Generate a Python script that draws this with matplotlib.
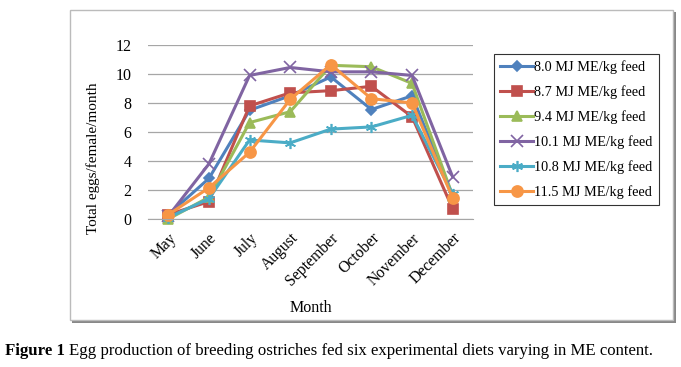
import matplotlib.pyplot as plt
from matplotlib.patches import Rectangle

plt.rcParams['font.family'] = ['Liberation Serif', 'DejaVu Serif']

months = ['May', 'June', 'July', 'August', 'September', 'October', 'November', 'December']
labels = ['8.0 MJ ME/kg feed', '8.7 MJ ME/kg feed', '9.4 MJ ME/kg feed',
          '10.1 MJ ME/kg feed', '10.8 MJ ME/kg feed', '11.5 MJ ME/kg feed']

me_80 = [0.3, 2.8, 7.5, 8.5, 9.8, 7.55, 8.5, 1.6]
me_87 = [0.3, 1.2, 7.8, 8.7, 8.85, 9.15, 7.05, 0.7]
me_94 = [0.0, 1.5, 6.65, 7.4, 10.6, 10.5, 9.35, 1.6]
me_101 = [0.2, 3.8, 9.9, 10.45, 10.15, 10.15, 9.9, 2.9]
me_108 = [0.1, 1.4, 5.45, 5.25, 6.2, 6.35, 7.15, 1.7]
me_115 = [0.3, 2.15, 4.6, 8.25, 10.65, 8.3, 8.0, 1.45]

series = [me_80, me_87, me_94, me_101, me_108, me_115]
colors = ['#4F81BD', '#C0504D', '#9BBB59', '#8064A2', '#4BACC6', '#F79646']
markers = ['D', 's', '^', 'x', (6, 2, 0), 'o']
msizes = [5, 7.5, 7.5, 8, 8, 8]

W, H = 681, 367
fig = plt.figure(figsize=(W / 100, H / 100), dpi=100)

# outer chart frame with shadow on right/bottom
fig.patches.append(Rectangle((72 / W, 1 - 323 / H), 604 / W, 311 / H,
                             transform=fig.transFigure, facecolor='#888888',
                             edgecolor='none', zorder=-2))
fig.patches.append(Rectangle((70 / W, 1 - 320 / H), 603 / W, 310 / H,
                             transform=fig.transFigure, facecolor='white',
                             edgecolor='#BBBBBB', linewidth=1, zorder=-1))

# plot area
ax = fig.add_axes([148 / W, 1 - 219 / H, 325 / W, 174 / H])
ax.set_zorder(2)
ax.set_facecolor('none')
x = range(len(months))
for vals, c, m, ms, lab in zip(series, colors, markers, msizes, labels):
    ax.plot(x, vals, color=c, marker=m, markersize=ms, linewidth=2.2,
            markeredgecolor=c, markeredgewidth=1.2, label=lab, clip_on=False)

ax.set_xlim(-0.5, 7.5)
ax.set_ylim(0, 12)
ax.set_yticks(range(0, 13, 2))
ax.set_xticks(list(x))
ax.set_xticklabels(months, rotation=45, ha='right', rotation_mode='anchor')
ax.yaxis.grid(True, color='#A6A6A6', linewidth=0.9)
ax.set_axisbelow(True)
for s in ['top', 'right', 'left']:
    ax.spines[s].set_visible(False)
ax.spines['bottom'].set_color('#A6A6A6')
ax.tick_params(axis='y', length=0, labelsize=11.5, pad=12)
ax.tick_params(axis='x', length=0, labelsize=11.3, pad=8)
ax.set_ylabel('Total eggs/female/month', fontsize=11, va='center')
ax.yaxis.set_label_coords(-0.168, 0.35)
ax.set_xlabel('Month', fontsize=11.5, va='center')
ax.xaxis.set_label_coords(0.5, -0.51)

leg = fig.legend(loc='upper left', bbox_to_anchor=(494 / W, 1 - 54 / H),
                 fontsize=10.3, frameon=True, fancybox=False, handlelength=2.3,
                 handletextpad=0.05, labelspacing=0.78, borderpad=0.45,
                 borderaxespad=0)
leg.get_frame().set_edgecolor('black')
leg.get_frame().set_linewidth(0.8)
leg.set_zorder(3)

fig.text(5 / W, 1 - 355 / H, 'Figure 1', fontsize=12.1, va='baseline',
         fontweight='bold')
fig.text(69 / W, 1 - 355 / H,
         'Egg production of breeding ostriches fed six experimental diets varying in ME content.',
         fontsize=12.1, va='baseline')

fig.savefig('out.png', dpi=100)
